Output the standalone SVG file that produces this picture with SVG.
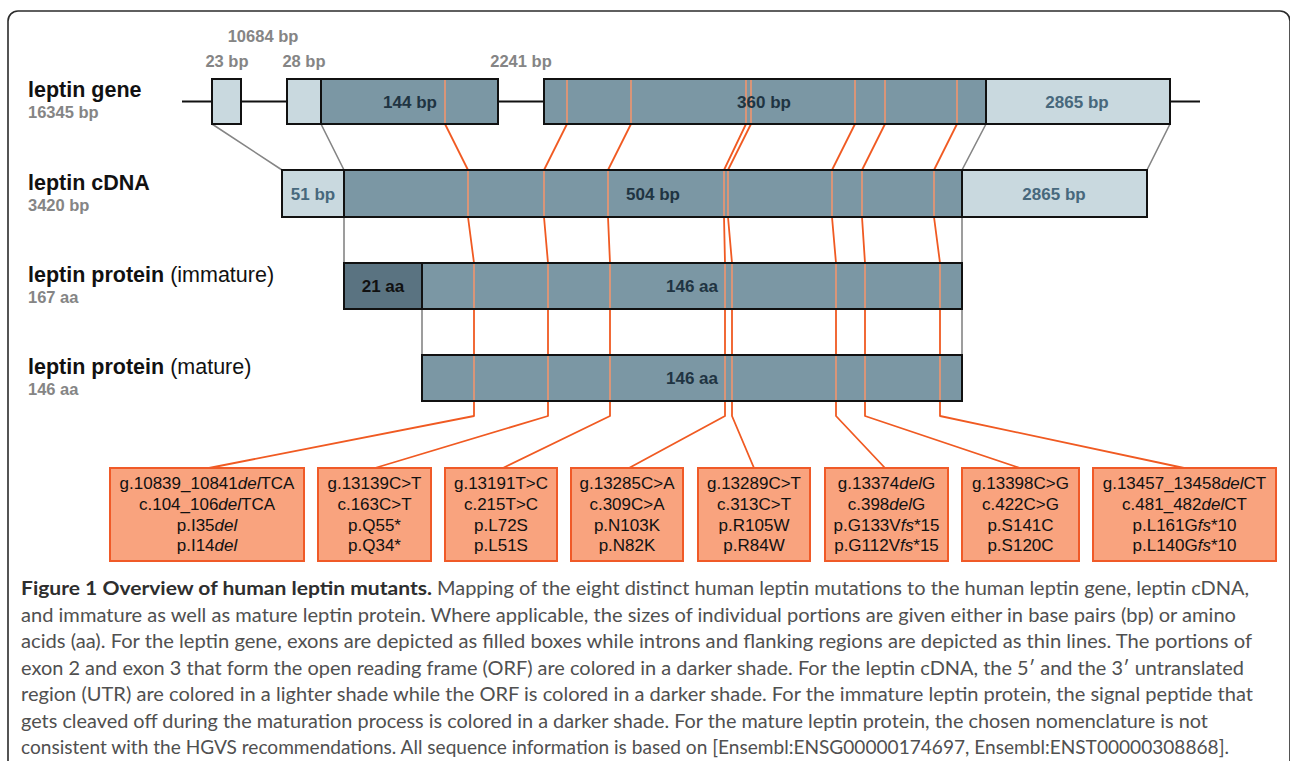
<svg xmlns="http://www.w3.org/2000/svg" width="1290" height="761" viewBox="0 0 1290 761">
<style>
.frame{fill:none;stroke:#2b2b2b;stroke-width:1.6}
.ln{stroke:#111;stroke-width:2;fill:none}
.box{stroke:#111;stroke-width:2}
.light{fill:#c9d9df}
.dark{fill:#7b97a4}
.sig{fill:#5a7381}
.gray{stroke:#858585;stroke-width:1.6;fill:none}
.or{stroke:#f05a22;stroke-width:1.8;fill:none;stroke-linejoin:round}
.tick{stroke:#f9956a;stroke-width:1.5}
.mut rect{fill:#f9a37e;stroke:#f05a28;stroke-width:2}
.mut text{font-family:"Liberation Sans",Arial,sans-serif;font-size:17px;fill:#111;text-anchor:middle}
.lab{font-family:"Liberation Sans",Arial,sans-serif;font-weight:bold;font-size:21.5px;fill:#111}
.reg{font-weight:normal}
.sub{font-family:"Liberation Sans",Arial,sans-serif;font-weight:bold;font-size:16.5px;fill:#858585}
.bt{font-family:"Liberation Sans",Arial,sans-serif;font-weight:bold;font-size:17px;text-anchor:middle}
.dk{fill:#1f3442}
.lt{fill:#47687c}
.cap{font-family:Lato,"Open Sans",sans-serif;font-size:18.5px;fill:#505050}
.capb{font-weight:bold;fill:#2e2e2e}
</style>
<path class="frame" d="M8,761 V21 A10,10 0 0 1 18,11 H1280 A10,10 0 0 1 1290,21 V761"/>

<g id="connectors">
<path class="gray" d="M212,124 L282,170 M321,124 L344,170 M986,124 L962,170 M1170,124 L1147,170 M344,217 V263 M962,217 V263 M422,309 V355 M962,309 V355"/>
<polyline class="or" points="445,124 468,170 468,217 474,263 474,416 209,468"/>
<polyline class="or" points="567,124 544,170 544,217 548,263 548,416 375,468"/>
<polyline class="or" points="631,124 608,170 608,217 610,263 610,416 503,468"/>
<polyline class="or" points="746,124 724,170 724,217 725,263 725,416 629,468"/>
<polyline class="or" points="751,124 728,170 728,217 732,263 732,416 754,468"/>
<polyline class="or" points="855,124 832,170 832,217 836,263 836,416 885,468"/>
<polyline class="or" points="885,124 862,170 862,217 865,263 865,416 1020,468"/>
<polyline class="or" points="957,124 934,170 934,217 940,263 940,416 1184,468"/>
</g>

<g id="gene">
<line class="ln" x1="182" y1="101.5" x2="1200" y2="101.5"/>
<rect class="box light" x="212" y="79" width="29" height="45"/>
<rect class="box light" x="287" y="79" width="34" height="45"/>
<rect class="box dark" x="321" y="79" width="177" height="45"/>
<rect class="box dark" x="544" y="79" width="442" height="45"/>
<rect class="box light" x="986" y="79" width="184" height="45"/>
<path class="tick" d="M445,80V123 M567,80V123 M631,80V123 M746,80V123 M751,80V123 M855,80V123 M885,80V123 M957,80V123"/>
<text class="bt dk" x="410" y="107.5">144 bp</text>
<text class="bt dk" x="764" y="107.5">360 bp</text>
<text class="bt lt" x="1077" y="107.5">2865 bp</text>
<text class="sub" x="263" y="42" text-anchor="middle">10684 bp</text>
<text class="sub" x="227" y="67" text-anchor="middle">23 bp</text>
<text class="sub" x="304" y="67" text-anchor="middle">28 bp</text>
<text class="sub" x="521" y="67" text-anchor="middle">2241 bp</text>
<text class="lab" x="28" y="97">leptin gene</text>
<text class="sub" x="28" y="118">16345 bp</text>
</g>

<g id="cdna">
<rect class="box light" x="282" y="170" width="62" height="47"/>
<rect class="box dark" x="344" y="170" width="618" height="47"/>
<rect class="box light" x="962" y="170" width="185" height="47"/>
<path class="tick" d="M468,171V216 M544,171V216 M608,171V216 M724,171V216 M728,171V216 M832,171V216 M862,171V216 M934,171V216"/>
<text class="bt lt" x="313" y="199.5">51 bp</text>
<text class="bt dk" x="653" y="199.5">504 bp</text>
<text class="bt lt" x="1054" y="199.5">2865 bp</text>
<text class="lab" x="28" y="190">leptin cDNA</text>
<text class="sub" x="28" y="211">3420 bp</text>
</g>

<g id="protein-immature">
<rect class="box sig" x="344" y="263" width="78" height="46"/>
<rect class="box dark" x="422" y="263" width="540" height="46"/>
<path class="tick" d="M474,264V308 M548,264V308 M610,264V308 M725,264V308 M732,264V308 M836,264V308 M865,264V308 M940,264V308"/>
<text class="bt" x="383" y="292" fill="#111">21 aa</text>
<text class="bt dk" x="692" y="292">146 aa</text>
<text class="lab" x="28" y="282">leptin protein <tspan class="reg">(immature)</tspan></text>
<text class="sub" x="28" y="303">167 aa</text>
</g>

<g id="protein-mature">
<rect class="box dark" x="422" y="355" width="540" height="46"/>
<path class="tick" d="M474,356V400 M548,356V400 M610,356V400 M725,356V400 M732,356V400 M836,356V400 M865,356V400 M940,356V400"/>
<text class="bt dk" x="692" y="384">146 aa</text>
<text class="lab" x="28" y="374">leptin protein <tspan class="reg">(mature)</tspan></text>
<text class="sub" x="28" y="395">146 aa</text>
</g>

<g id="mut1" class="mut"><rect x="110" y="468" width="194" height="93"/>
<text x="207" y="489">g.10839_10841<tspan font-style="italic">del</tspan>TCA</text>
<text x="207" y="510">c.104_106<tspan font-style="italic">del</tspan>TCA</text>
<text x="207" y="531">p.I35<tspan font-style="italic">del</tspan></text>
<text x="207" y="551">p.I14<tspan font-style="italic">del</tspan></text></g>
<g id="mut2" class="mut"><rect x="318" y="468" width="113" height="93"/>
<text x="374.5" y="489">g.13139C&gt;T</text><text x="374.5" y="510">c.163C&gt;T</text>
<text x="374.5" y="531">p.Q55*</text><text x="374.5" y="551">p.Q34*</text></g>
<g id="mut3" class="mut"><rect x="445" y="468" width="112" height="93"/>
<text x="501" y="489">g.13191T&gt;C</text><text x="501" y="510">c.215T&gt;C</text>
<text x="501" y="531">p.L72S</text><text x="501" y="551">p.L51S</text></g>
<g id="mut4" class="mut"><rect x="571" y="468" width="112" height="93"/>
<text x="627" y="489">g.13285C&gt;A</text><text x="627" y="510">c.309C&gt;A</text>
<text x="627" y="531">p.N103K</text><text x="627" y="551">p.N82K</text></g>
<g id="mut5" class="mut"><rect x="698" y="468" width="112" height="93"/>
<text x="754" y="489">g.13289C&gt;T</text><text x="754" y="510">c.313C&gt;T</text>
<text x="754" y="531">p.R105W</text><text x="754" y="551">p.R84W</text></g>
<g id="mut6" class="mut"><rect x="825" y="468" width="123" height="93"/>
<text x="886.5" y="489">g.13374<tspan font-style="italic">del</tspan>G</text>
<text x="886.5" y="510">c.398<tspan font-style="italic">del</tspan>G</text>
<text x="886.5" y="531">p.G133V<tspan font-style="italic">fs</tspan>*15</text>
<text x="886.5" y="551">p.G112V<tspan font-style="italic">fs</tspan>*15</text></g>
<g id="mut7" class="mut"><rect x="962" y="468" width="117" height="93"/>
<text x="1020.5" y="489">g.13398C&gt;G</text><text x="1020.5" y="510">c.422C&gt;G</text>
<text x="1020.5" y="531">p.S141C</text><text x="1020.5" y="551">p.S120C</text></g>
<g id="mut8" class="mut"><rect x="1093" y="468" width="183" height="93"/>
<text x="1184.5" y="489">g.13457_13458<tspan font-style="italic">del</tspan>CT</text>
<text x="1184.5" y="510">c.481_482<tspan font-style="italic">del</tspan>CT</text>
<text x="1184.5" y="531">p.L161G<tspan font-style="italic">fs</tspan>*10</text>
<text x="1184.5" y="551">p.L140G<tspan font-style="italic">fs</tspan>*10</text></g>

<g id="caption" class="cap">
<text class="capb" x="21" y="595" textLength="411" lengthAdjust="spacingAndGlyphs">Figure 1 Overview of human leptin mutants.</text>
<text x="437" y="595" textLength="812" lengthAdjust="spacingAndGlyphs">Mapping of the eight distinct human leptin mutations to the human leptin gene, leptin cDNA,</text>
<text x="21" y="621.5" textLength="1215" lengthAdjust="spacingAndGlyphs">and immature as well as mature leptin protein. Where applicable, the sizes of individual portions are given either in base pairs (bp) or amino</text>
<text x="21" y="648" textLength="1231" lengthAdjust="spacingAndGlyphs">acids (aa). For the leptin gene, exons are depicted as filled boxes while introns and flanking regions are depicted as thin lines. The portions of</text>
<text x="21" y="674.5" textLength="1223" lengthAdjust="spacingAndGlyphs">exon 2 and exon 3 that form the open reading frame (ORF) are colored in a darker shade. For the leptin cDNA, the 5′ and the 3′ untranslated</text>
<text x="21" y="701" textLength="1232" lengthAdjust="spacingAndGlyphs">region (UTR) are colored in a lighter shade while the ORF is colored in a darker shade. For the immature leptin protein, the signal peptide that</text>
<text x="21" y="727.5" textLength="1187" lengthAdjust="spacingAndGlyphs">gets cleaved off during the maturation process is colored in a darker shade. For the mature leptin protein, the chosen nomenclature is not</text>
<text x="21" y="754" textLength="1208" lengthAdjust="spacingAndGlyphs">consistent with the HGVS recommendations. All sequence information is based on [Ensembl:ENSG00000174697, Ensembl:ENST00000308868].</text>
</g>
</svg>
